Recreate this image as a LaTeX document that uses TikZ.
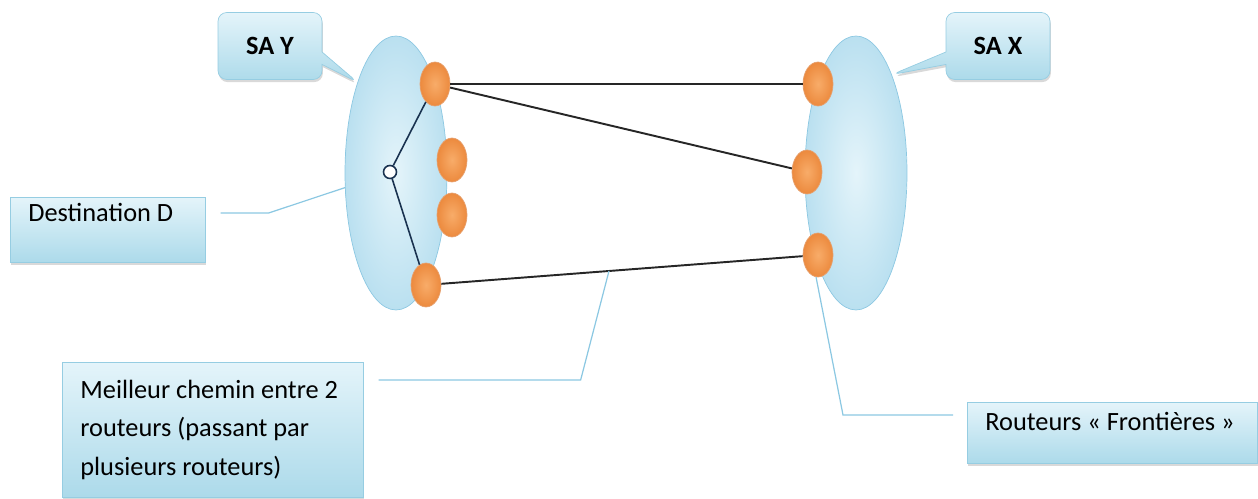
\documentclass[tikz,border=0pt]{standalone}
\usepackage{fontspec}
\setmainfont{Carlito}
\usetikzlibrary{shapes.geometric,shapes.callouts,shadows}

\definecolor{asblue}{RGB}{186,224,240}
\definecolor{aslight}{RGB}{228,244,250}
\definecolor{asedge}{RGB}{140,200,226}
\definecolor{routerorange}{RGB}{236,138,62}
\definecolor{routerlight}{RGB}{248,172,105}
\definecolor{routeredge}{RGB}{230,160,110}
\definecolor{boxtop}{RGB}{228,244,250}
\definecolor{boxbottom}{RGB}{172,218,234}
\definecolor{boxedge}{RGB}{150,205,226}
\definecolor{leaderblue}{RGB}{140,200,226}
\definecolor{navy}{RGB}{25,50,80}

\begin{document}
\begin{tikzpicture}[
  x=0.02cm, y=-0.02cm,
  font=\fontsize{15}{22}\selectfont,
  asblob/.style={ellipse, draw=asedge, inner color=aslight, outer color=asblue, minimum width=2.04cm, minimum height=5.48cm, inner sep=0pt},
  router/.style={ellipse, draw=routeredge, inner color=routerlight, outer color=routerorange, minimum width=0.6cm, minimum height=0.88cm, inner sep=0pt},
  destpt/.style={circle, draw=navy, fill=white, line width=0.9pt, minimum size=0.26cm, inner sep=0pt},
  notebox/.style={draw=boxedge, top color=boxtop, bottom color=boxbottom, drop shadow={shadow xshift=0.5pt, shadow yshift=-1.5pt, opacity=0.3}, align=flush left, anchor=north west, inner xsep=0.36cm, inner ysep=0.14cm},
  astag/.style={rectangle callout, rounded corners=5pt, draw=boxedge, top color=boxtop, bottom color=boxbottom, drop shadow={shadow xshift=0.5pt, shadow yshift=-1.5pt, opacity=0.3}, minimum width=2.08cm, minimum height=1.34cm, font=\fontsize{15}{17}\selectfont\bfseries},
  link/.style={draw=black!85, line width=1.1pt},
  intra/.style={draw=navy, line width=0.9pt},
  leader/.style={draw=leaderblue, line width=0.7pt}
]
\useasboundingbox (0,0) rectangle (1258,499);

% autonomous systems
\node[asblob] (sy) at (396,173) {};
\node[asblob] (sx) at (856,173) {};

% border routers
\node[router] (L1) at (435,84) {};
\node[router] (L2) at (452,160) {};
\node[router] (L3) at (452,215) {};
\node[router] (L4) at (426,285) {};
\node[router] (R1) at (818,84) {};
\node[router] (R2) at (807,172) {};
\node[router] (R3) at (818,255) {};
\node[destpt] (D) at (390,172) {};

% links
\draw[link] (L1) -- (R1);
\draw[link] (L1) -- (R2);
\draw[link] (L4) -- coordinate[pos=0.464] (bestpt) (R3);
\draw[intra] (L1) -- (D) -- (L4);

% callouts
\node[astag, callout absolute pointer={(sy.113)}] (tagY) at (270,46) {SA Y};
\node[astag, callout absolute pointer={(sx.70)}] (tagX) at (998,46) {SA X};

% notes
\node[notebox, text width=3.18cm, text height=0.34cm, text depth=0.68cm] (destbox) at (10,197) {Destination D};
\node[notebox, text width=5.3cm, minimum height=2.7cm] (bestbox) at (62,362)
  {Meilleur chemin entre 2\\routeurs (passant par\\plusieurs routeurs)};
\node[notebox, text width=5.08cm, text height=0.42cm, text depth=0.52cm] (frontbox) at (967,402) {Routeurs « Frontières »};

\draw[leader] ([xshift=0.3cm,yshift=-0.32cm]destbox.north east) -- ++(48,0) -- (sy.196);
\draw[leader] ([xshift=0.3cm,yshift=-0.36cm]bestbox.north east) -- ++(202,0) -- (bestpt);
\draw[leader] ([xshift=-0.28cm,yshift=-0.26cm]frontbox.north west) -- ++(-110,0) -- (R3.265);

\end{tikzpicture}
\end{document}
